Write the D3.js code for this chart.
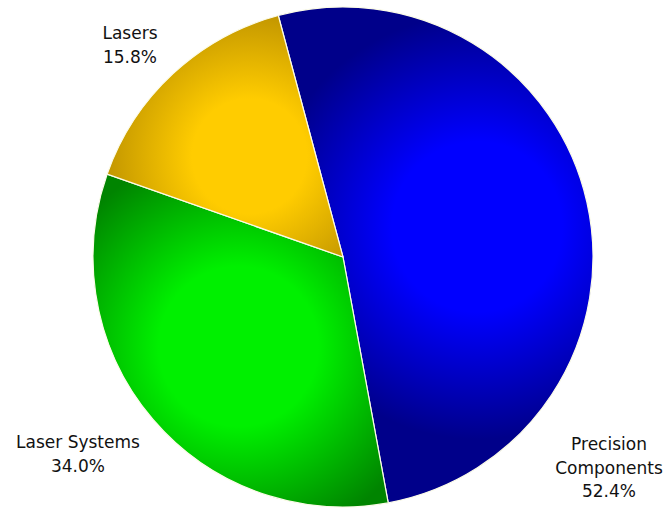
<!DOCTYPE html>
<html>
<head>
<meta charset="utf-8">
<script src="https://cdn.jsdelivr.net/npm/d3@7"></script>
<style>
  html, body { margin: 0; padding: 0; background: #fff; }
  svg { display: block; }
</style>
</head>
<body>
<svg id="chart" width="667" height="508"></svg>
<script>
// Revenue share by segment
const categories = ["Precision Components", "Laser Systems", "Lasers"];
const shares = [52.4, 34.0, 15.8];
const shareLabels = ["52.4%", "34.0%", "15.8%"];
const labelLines = [["Precision", "Components"], ["Laser Systems"], ["Lasers"]];

// Slice colours: bright core and darker rim
const coreColors = ["#0000ff", "#00f000", "#ffcc00"];
const rimColors = ["#00008a", "#008400", "#c29600"];

// Label anchor positions (centre of the text block, first baseline)
const labelLayout = [
  { x: 609, y: 450 },
  { x: 78, y: 448 },
  { x: 130, y: 39 }
];

const W = 667, H = 508;
const cx = 343, cy = 257, R = 250;
const startDeg = -15;

const svg = d3.select("#chart");
const defs = svg.append("defs");

const pie = d3.pie()
  .sort(null)
  .value(d => d)
  .startAngle(startDeg * Math.PI / 180)
  .endAngle((startDeg + 360) * Math.PI / 180);

const arcs = pie(shares);
const arc = d3.arc().innerRadius(0).outerRadius(R);

const g = svg.append("g").attr("transform", `translate(${cx},${cy})`);

// One radial shade per slice, centred part-way out along its bisector
arcs.forEach((a, i) => {
  const mid = (a.startAngle + a.endAngle) / 2;
  const span = a.endAngle - a.startAngle;
  const rc = R * 0.55;
  const gx = Math.sin(mid) * rc, gy = -Math.cos(mid) * rc;
  const gr = R * Math.min(0.85, 0.38 + span * 0.2);
  const grad = defs.append("radialGradient")
    .attr("id", "shade" + i)
    .attr("gradientUnits", "userSpaceOnUse")
    .attr("cx", gx).attr("cy", gy)
    .attr("fx", gx).attr("fy", gy)
    .attr("r", gr);
  grad.append("stop").attr("offset", "0%").attr("stop-color", coreColors[i]);
  grad.append("stop").attr("offset", "40%").attr("stop-color", coreColors[i]);
  grad.append("stop").attr("offset", "100%").attr("stop-color", rimColors[i]);
});

g.selectAll("path.slice")
  .data(arcs)
  .join("path")
  .attr("class", "slice")
  .attr("d", arc)
  .attr("fill", (d, i) => `url(#shade${i})`)
  .attr("stroke", "#fbfbe8")
  .attr("stroke-width", 1.2)
  .attr("stroke-linejoin", "round");

// Labels
const labels = svg.selectAll("text.label")
  .data(categories)
  .join("text")
  .attr("class", "label")
  .attr("text-anchor", "middle")
  .attr("font-family", "'DejaVu Sans', Verdana, sans-serif")
  .attr("font-size", 17)
  .attr("fill", "#111")
  .attr("x", (d, i) => labelLayout[i].x)
  .attr("y", (d, i) => labelLayout[i].y);

labels.each(function(d, i) {
  const t = d3.select(this);
  const lines = labelLines[i].concat([shareLabels[i]]);
  lines.forEach((ln, k) => {
    t.append("tspan")
      .attr("x", labelLayout[i].x)
      .attr("dy", k === 0 ? 0 : 23.5)
      .text(ln);
  });
});
</script>
</body>
</html>
